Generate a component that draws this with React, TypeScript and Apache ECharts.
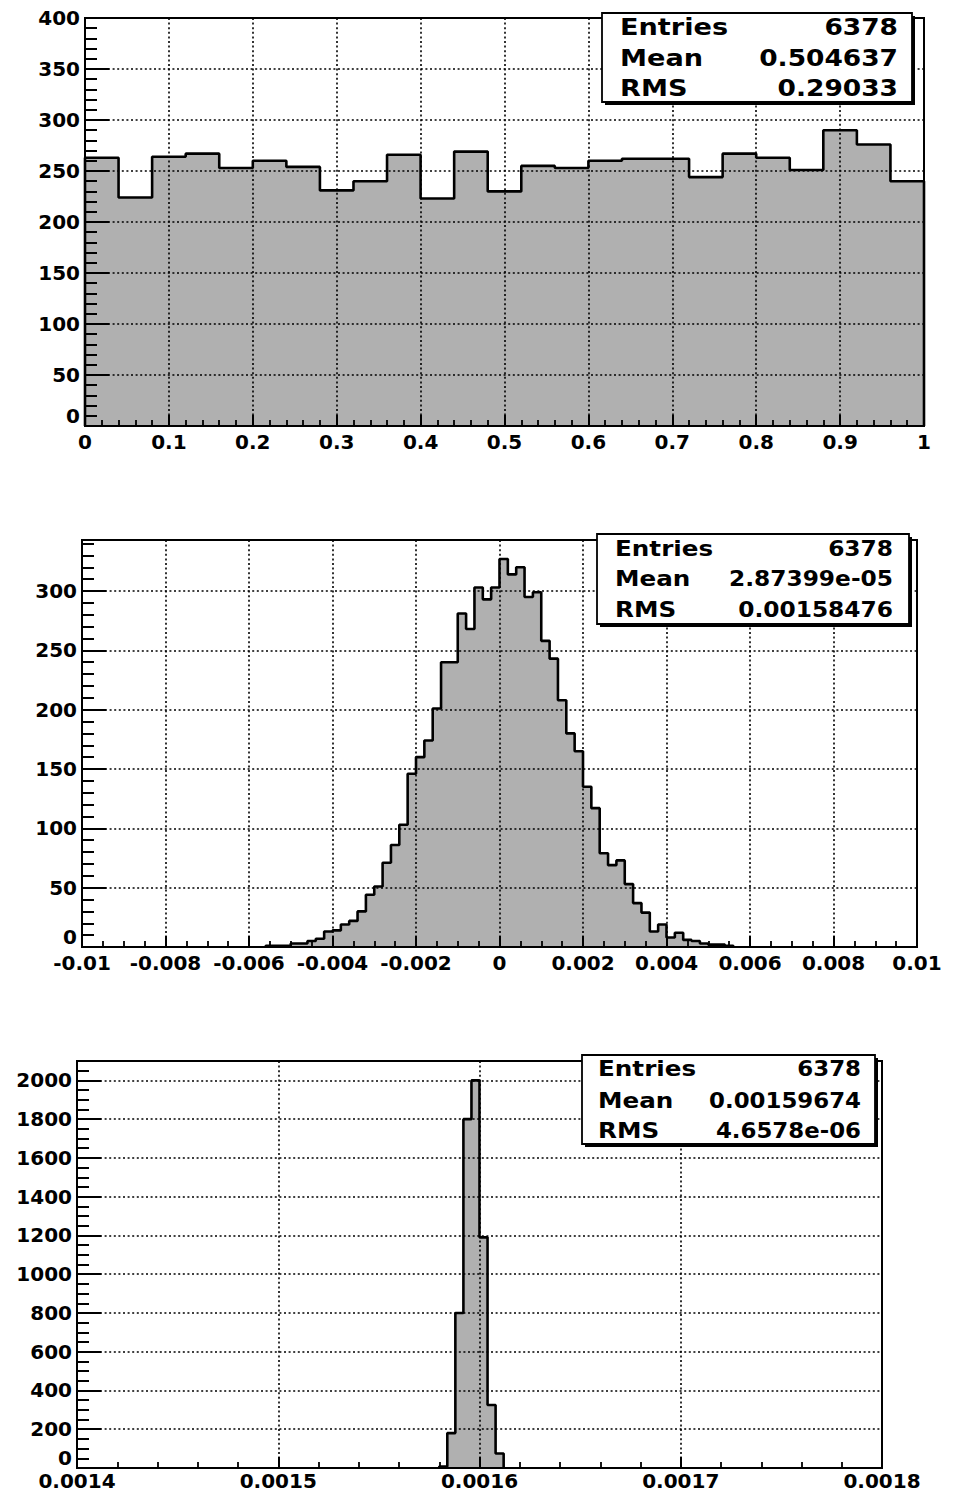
import React, { useEffect, useRef } from "react";
import * as echarts from "echarts";

// ---------- Data ----------
// Top histogram: 25 bins of width 0.04 on [0, 1]
const TOP_MIN = 0;
const TOP_MAX = 1;
const TOP_BIN = 0.04;
const TOP_FIRST = 0;
const TOP_COUNTS = [
  263, 224, 264, 267, 253, 260, 254, 231, 240, 266, 223, 269, 230,
  255, 253, 260, 262, 262, 244, 267, 263, 251, 290, 276, 240,
];

// Middle histogram: 100 bins of width 0.0002 on [-0.01, 0.01]; bins before 22 and after 77 are empty
const MID_MIN = -0.01;
const MID_MAX = 0.01;
const MID_BIN = 0.0002;
const MID_FIRST = 22;
const MID_COUNTS = [
  1, 1, 1, 3, 3, 5, 7, 13, 14, 19, 22, 30, 44, 51, 71, 86, 103, 146, 160,
  174, 201, 240, 240, 281, 268, 303, 293, 303, 327, 314, 320, 295, 299,
  258, 243, 208, 180, 165, 135, 117, 79, 69, 73, 53, 37, 29, 13, 19, 8, 12,
  6, 5, 3, 2, 2, 1,
];

// Bottom histogram: 100 bins of width 0.000004 on [0.0014, 0.0018]; only bins 45..52 filled
const BOT_MIN = 0.0014;
const BOT_MAX = 0.0018;
const BOT_BIN = 0.000004;
const BOT_FIRST = 45;
const BOT_COUNTS = [8, 180, 800, 1800, 2000, 1190, 325, 75];

// Stat boxes
const STAT_LABELS = ["Entries", "Mean", "RMS"];
const TOP_STATS = ["6378", "0.504637", "0.29033"];
const MID_STATS = ["6378", "2.87399e-05", "0.00158476"];
const BOT_STATS = ["6378", "0.00159674", "4.6578e-06"];

// Axis ranges / ticks
const TOP_Y = { max: 400, interval: 50, minor: 5 };
const MID_Y = { max: 343, interval: 50, minor: 5 };
const BOT_Y = { max: 2100, interval: 200, minor: 4 };
const TOP_X = { interval: 0.1, minor: 5, digits: 10, margin: 6 };
const MID_X = { interval: 0.002, minor: 4, digits: 1000, margin: 6 };
const BOT_X = { interval: 0.0001, minor: 5, digits: 10000, margin: 3 };

// ---------- Helpers ----------
function stepData(min: number, bin: number, first: number, counts: number[]) {
  const pts: number[][] = [];
  const edge = (i: number) => min + (first + i) * bin;
  pts.push([edge(0), 0]);
  counts.forEach((c, i) => pts.push([edge(i), c]));
  pts.push([edge(counts.length), counts[counts.length - 1]]);
  pts.push([edge(counts.length), 0]);
  return pts;
}

const FONT = "DejaVu Sans";
const GRID_LINE = { color: "#000", width: 1.6, type: [2, 2.6] };

function xAxis(gridIndex: number, min: number, max: number, cfg: any) {
  return {
    type: "value",
    gridIndex,
    min,
    max,
    interval: cfg.interval,
    axisLine: { show: true, onZero: false, lineStyle: { color: "#000", width: 2 } },
    axisTick: { show: true, inside: true, length: 11, lineStyle: { color: "#000", width: 2 } },
    minorTick: { show: true, splitNumber: cfg.minor, length: 6, lineStyle: { color: "#000", width: 1.8 } },
    splitLine: { show: true, lineStyle: GRID_LINE },
    axisLabel: {
      color: "#000",
      fontFamily: FONT,
      fontWeight: "bold",
      fontSize: 20,
      lineHeight: 20,
      margin: cfg.margin,
      formatter: (v: number) => String(Math.round(v * cfg.digits) / cfg.digits),
    },
  };
}

function yAxis(gridIndex: number, cfg: any) {
  return {
    type: "value",
    gridIndex,
    min: 0,
    max: cfg.max,
    interval: cfg.interval,
    axisLine: { show: true, onZero: false, lineStyle: { color: "#000", width: 2 } },
    axisTick: { show: true, inside: true, length: 24, lineStyle: { color: "#000", width: 2 } },
    minorTick: { show: true, splitNumber: cfg.minor, length: 12, lineStyle: { color: "#000", width: 2 } },
    splitLine: { show: true, lineStyle: GRID_LINE },
    axisLabel: {
      color: "#000",
      fontFamily: FONT,
      fontWeight: "bold",
      fontSize: 20,
      margin: 5,
      showMaxLabel: cfg.max % cfg.interval === 0,
      verticalAlignMinLabel: "bottom",
      formatter: (v: number) => String(v),
    },
  };
}

function series(i: number, data: number[][]) {
  return {
    type: "line",
    xAxisIndex: i,
    yAxisIndex: i,
    data,
    step: "end",
    symbol: "none",
    lineStyle: { color: "#000", width: 2.6 },
    areaStyle: { color: "rgba(0,0,0,0.31)", opacity: 1, origin: "start" },
    z: 5,
  };
}

function statBox(
  x: number,
  y: number,
  w: number,
  h: number,
  textLeft: number,
  textRight: number,
  rowYs: number[],
  values: string[],
  fontSize: number,
  labelScale: number,
  valueScale: number
) {
  const els: any[] = [
    { type: "rect", shape: { x: x + 3, y: y + 3, width: w, height: h }, style: { fill: "#000" }, z: 100 },
    {
      type: "rect",
      shape: { x, y, width: w, height: h },
      style: { fill: "#fff", stroke: "#000", lineWidth: 1.8 },
      z: 101,
    },
  ];
  STAT_LABELS.forEach((lab, i) => {
    els.push({
      type: "text",
      x: textLeft,
      y: rowYs[i],
      scaleX: labelScale,
      z: 102,
      style: {
        text: lab,
        fill: "#000",
        font: `bold ${fontSize}px "${FONT}"`,
        textAlign: "left",
        textVerticalAlign: "middle",
        align: "left",
        verticalAlign: "middle",
      },
    });
    els.push({
      type: "text",
      x: textRight,
      y: rowYs[i],
      scaleX: valueScale,
      z: 102,
      style: {
        text: values[i],
        fill: "#000",
        font: `bold ${fontSize}px "${FONT}"`,
        textAlign: "right",
        textVerticalAlign: "middle",
        align: "right",
        verticalAlign: "middle",
      },
    });
  });
  return els;
}

export default function App() {
  const ref = useRef<HTMLDivElement>(null);

  useEffect(() => {
    if (!ref.current) return;
    const chart = echarts.init(ref.current, undefined, { renderer: "svg" });
    const gridCommon = { show: true, borderColor: "#000", borderWidth: 2, backgroundColor: "transparent" };
    chart.setOption({
      animation: false,
      backgroundColor: "#fff",
      grid: [
        { ...gridCommon, left: 85, top: 18, width: 839, height: 408 },
        { ...gridCommon, left: 82, top: 540, width: 835, height: 407 },
        { ...gridCommon, left: 77, top: 1061, width: 805, height: 407 },
      ],
      xAxis: [
        xAxis(0, TOP_MIN, TOP_MAX, TOP_X),
        xAxis(1, MID_MIN, MID_MAX, MID_X),
        xAxis(2, BOT_MIN, BOT_MAX, BOT_X),
      ],
      yAxis: [yAxis(0, TOP_Y), yAxis(1, MID_Y), yAxis(2, BOT_Y)],
      series: [
        series(0, stepData(TOP_MIN, TOP_BIN, TOP_FIRST, TOP_COUNTS)),
        series(1, stepData(MID_MIN, MID_BIN, MID_FIRST, MID_COUNTS)),
        series(2, stepData(BOT_MIN, BOT_BIN, BOT_FIRST, BOT_COUNTS)),
      ],
      graphic: [
        ...statBox(602, 13, 310, 89, 620, 898, [27, 58, 88], TOP_STATS, 23, 1.18, 1.15),
        ...statBox(597, 534, 312, 90, 615, 893, [548, 578, 609], MID_STATS, 22, 1.12, 1.06),
        ...statBox(582, 1055, 293, 89, 598, 861, [1068, 1100, 1130], BOT_STATS, 22, 1.12, 1.04),
      ],
    });
    return () => chart.dispose();
  }, []);

  return (
    <div
      ref={ref}
      style={{ position: "absolute", left: 0, top: 0, width: 955, height: 1493 }}
    />
  );
}
